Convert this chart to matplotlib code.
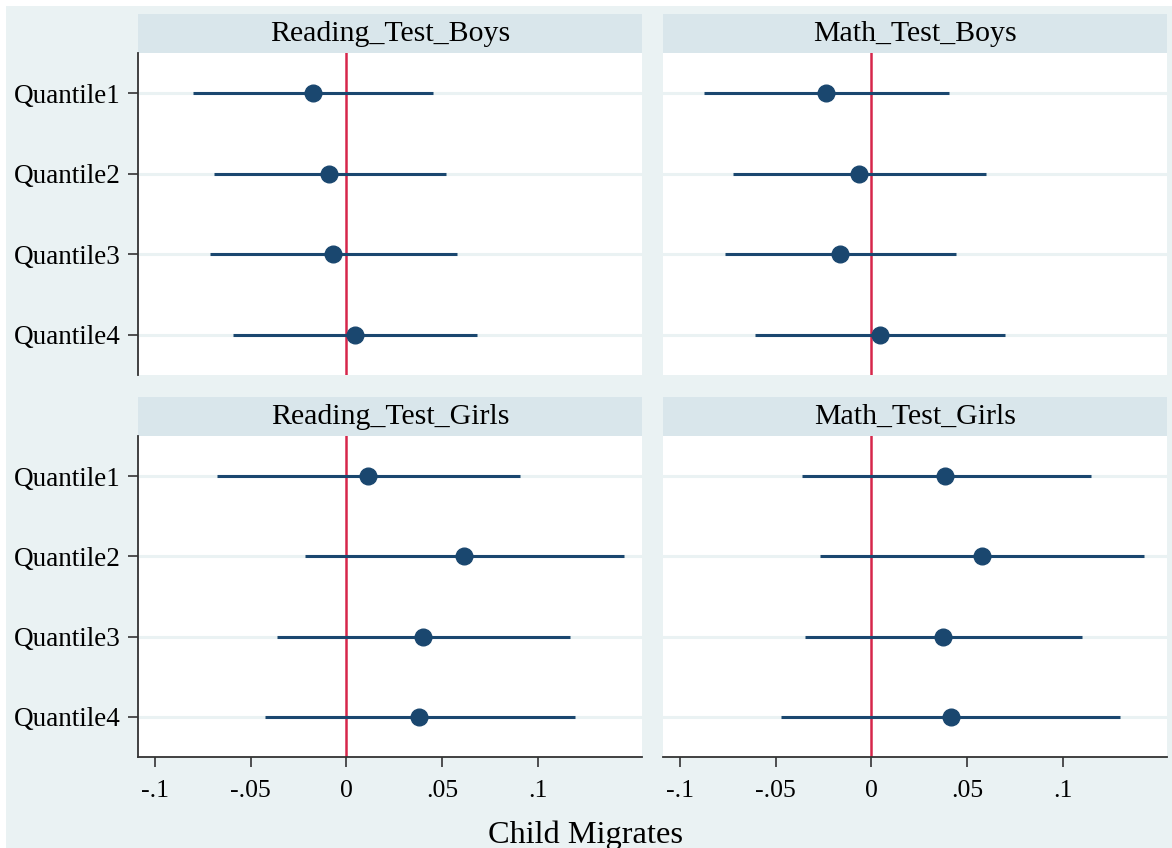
import numpy as np
import matplotlib.pyplot as plt

plt.rcParams['font.family'] = ['Liberation Serif', 'DejaVu Serif']

# coefficient estimates with 95% CI by quantile
quantiles = ['Quantile1', 'Quantile2', 'Quantile3', 'Quantile4']
panel_titles = ['Reading_Test_Boys', 'Math_Test_Boys', 'Reading_Test_Girls', 'Math_Test_Girls']

reading_boys_coef = [-0.0173, -0.0089, -0.0071, 0.0047]
reading_boys_lo = [-0.0799, -0.0694, -0.0715, -0.0590]
reading_boys_hi = [0.0455, 0.0519, 0.0576, 0.0684]

math_boys_coef = [-0.0235, -0.0063, -0.0162, 0.0044]
math_boys_lo = [-0.0874, -0.0722, -0.0764, -0.0607]
math_boys_hi = [0.0408, 0.0597, 0.0443, 0.0697]

reading_girls_coef = [0.0115, 0.0615, 0.0403, 0.0382]
reading_girls_lo = [-0.0677, -0.0217, -0.0361, -0.0427]
reading_girls_hi = [0.0910, 0.1450, 0.1167, 0.1193]

math_girls_coef = [0.0387, 0.0576, 0.0372, 0.0414]
math_girls_lo = [-0.0361, -0.0267, -0.0346, -0.0471]
math_girls_hi = [0.1147, 0.1424, 0.1100, 0.1298]

xticks = [-0.1, -0.05, 0, 0.05, 0.1]
xtick_labels = ['-.1', '-.05', '0', '.05', '.1']

panels = [
    (reading_boys_coef, reading_boys_lo, reading_boys_hi),
    (math_boys_coef, math_boys_lo, math_boys_hi),
    (reading_girls_coef, reading_girls_lo, reading_girls_hi),
    (math_girls_coef, math_girls_lo, math_girls_hi),
]

W, H = 1172, 848
BG = '#eaf2f3'
STRIP = '#d9e6eb'
NAVY = '#1a476f'
RED = '#d6264a'
AXC = '#333333'

fig = plt.figure(figsize=(W / 100, H / 100), dpi=100)
fig.patch.set_facecolor('white')
# graph region (light bluish background below the white top band)
bg = fig.add_axes([6 / W, 0, 1 - 6 / W, (H - 6) / H])
bg.set_facecolor(BG)
bg.set_xticks([])
bg.set_yticks([])
for s in bg.spines.values():
    s.set_visible(False)
bg.set_zorder(-10)


def px_axes(x0, y0, x1, y1):
    return fig.add_axes([x0 / W, 1 - y1 / H, (x1 - x0) / W, (y1 - y0) / H])


col_x = [(138, 642), (663, 1167)]
row_y = [(14, 53, 375), (397, 436, 757)]
y = np.arange(1, len(quantiles) + 1)

for i, (coef, lo, hi) in enumerate(panels):
    r, c = divmod(i, 2)
    x0, x1 = col_x[c]
    s0, p0, p1 = row_y[r]

    strip = px_axes(x0, s0, x1, p0)
    strip.set_facecolor(STRIP)
    strip.set_xticks([])
    strip.set_yticks([])
    for s in strip.spines.values():
        s.set_visible(False)
    strip.text(0.5, 0.48, panel_titles[i], ha='center', va='center', fontsize=21.5,
               color='black', transform=strip.transAxes)

    ax = px_axes(x0, p0, x1, p1)
    ax.set_facecolor('white')
    for yy in y:
        ax.axhline(yy, color=BG, lw=2.2, zorder=0)
    ax.axvline(0, color=RED, lw=1.8, zorder=1)
    ax.hlines(y, lo, hi, color=NAVY, lw=2.2, zorder=2)
    ax.plot(coef, y, 'o', color=NAVY, ms=12, zorder=3)

    ax.set_xlim(-0.1089, 0.1545)
    ax.set_ylim(4.5, 0.5)
    for s in ['top', 'right']:
        ax.spines[s].set_visible(False)
    ax.spines['left'].set_visible(c == 0)
    ax.spines['bottom'].set_visible(r == 1)
    ax.spines['left'].set_color(AXC)
    ax.spines['bottom'].set_color(AXC)
    ax.spines['left'].set_linewidth(1.3)
    ax.spines['bottom'].set_linewidth(1.3)

    ax.set_yticks(y)
    if c == 0:
        ax.set_yticklabels(quantiles, fontsize=19.5)
        ax.tick_params(axis='y', length=7.5, width=1.2, color=AXC, pad=5)
    else:
        ax.tick_params(axis='y', left=False, labelleft=False)

    ax.set_xticks(xticks)
    if r == 1:
        ax.set_xticklabels(xtick_labels, fontsize=18.5)
        ax.tick_params(axis='x', length=7.5, width=1.2, color=AXC, pad=9)
    else:
        ax.tick_params(axis='x', bottom=False, labelbottom=False)

fig.text(585 / W, 1 - 843 / H, 'Child Migrates', ha='center', va='baseline', fontsize=23.3)

fig.savefig('out.png', dpi=100)
